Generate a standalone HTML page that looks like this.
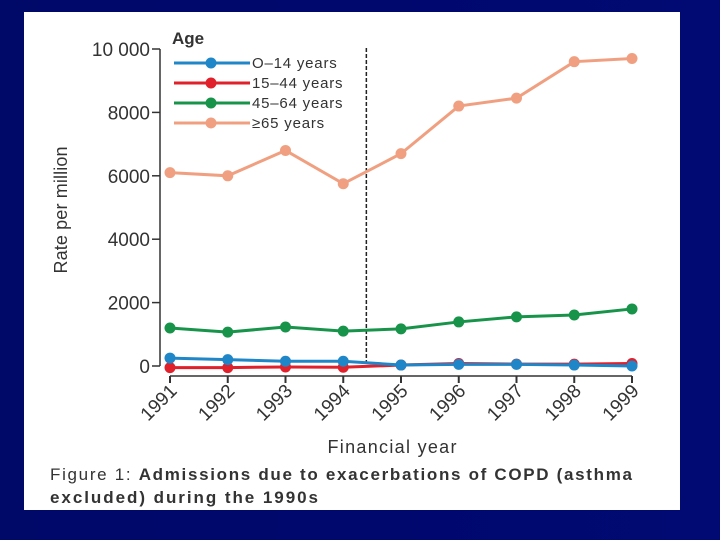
<!DOCTYPE html>
<html><head><meta charset="utf-8"><style>
html,body{margin:0;padding:0;width:720px;height:540px;overflow:hidden;background:#00066e;}
svg{display:block;}
</style></head><body>
<svg width="720" height="540">
<defs><linearGradient id="bg" x1="0" y1="0" x2="1" y2="0">
<stop offset="0" stop-color="#000868"/><stop offset="0.5" stop-color="#00086e"/><stop offset="1" stop-color="#000a72"/></linearGradient></defs>
<rect x="0" y="0" width="720" height="540" fill="url(#bg)"/>
<rect x="24" y="12" width="656" height="498" fill="#fff"/>
<g id="plot"></g>
<text x="67" y="210" transform="rotate(-90 67 210)" text-anchor="middle" font-family="Liberation Sans, sans-serif" font-size="18" textLength="127" fill="#333">Rate per million</text>
<text x="392" y="453" text-anchor="middle" font-family="Liberation Sans, sans-serif" font-size="18" textLength="129" fill="#333">Financial year</text>
<text x="50" y="480" font-family="Liberation Sans, sans-serif" font-size="17" fill="#333" textLength="582">Figure 1: <tspan font-weight="bold">Admissions due to exacerbations of COPD (asthma</tspan></text>
<text x="50" y="503" font-family="Liberation Sans, sans-serif" font-size="17" font-weight="bold" fill="#333" textLength="268">excluded) during the 1990s</text>
<text x="172" y="44" font-family="Liberation Sans, sans-serif" font-size="17" font-weight="bold" fill="#333">Age</text>
</svg>
<script>
const years = ['1991','1992','1993','1994','1995','1996','1997','1998','1999'];
const yTicks = [0,2000,4000,6000,8000,10000];
const yTickLabels = ['0','2000','4000','6000','8000','10 000'];
const seriesNames = ['O\u201314 years','15\u201344 years','45\u201364 years','\u226565 years'];
const seriesColors = ['#1f86c8','#e0202a','#17944a','#f0a080'];
const age0to14 = [250,200,150,150,30,50,50,30,0];
const age15to44 = [-50,-50,-30,-40,30,80,60,60,80];
const age45to64 = [1200,1070,1230,1100,1170,1390,1550,1610,1800];
const age65plus = [6100,6000,6800,5750,6700,8200,8450,9600,9700];
const seriesValues = [age0to14, age15to44, age45to64, age65plus];
const dividerYear = 3.4;

const NS='http://www.w3.org/2000/svg';
const g=document.getElementById('plot');
const x0=170,x1=632,yZero=366,yTop=49;
const xs=i=>x0+(x1-x0)*i/(years.length-1);
const ys=v=>yZero-(yZero-yTop)*v/10000;
function mk(tag,attrs){const e=document.createElementNS(NS,tag);for(const k in attrs)e.setAttribute(k,attrs[k]);g.appendChild(e);return e;}
const F='Liberation Sans, sans-serif';
let ax=mk('line',{x1:160,y1:ys(10000),x2:160,y2:yZero,stroke:'#333','stroke-width':1.5});


yTicks.forEach((t,i)=>{
  const tk=mk('line',{x1:152,x2:160,y1:ys(t),y2:ys(t),stroke:'#333','stroke-width':1.5});
  
  
  const tx=mk('text',{x:150,y:ys(t)+7,'text-anchor':'end','font-family':F,'font-size':19,fill:'#333'});
  tx.textContent=yTickLabels[i];
  
  
});
let xa=mk('line',{x1:xs(0),y1:376,x2:xs(years.length-1),y2:376,stroke:'#333','stroke-width':1.5});


years.forEach((y,i)=>{
  const tk=mk('line',{x1:xs(i),x2:xs(i),y1:376,y2:383,stroke:'#333','stroke-width':2});
  
  
  const tx=mk('text',{x:xs(i)+8,y:392,'text-anchor':'end','font-family':F,'font-size':19,fill:'#333',transform:`rotate(-45 ${xs(i)+8} 392)`});
  tx.textContent=y;
  
  
});
const dx=xs(dividerYear);
let dv=mk('line',{x1:dx,x2:dx,y1:48,y2:362,stroke:'#222','stroke-width':1.5,'stroke-dasharray':'4,2'});


[3,2,1,0].forEach(s=>{
  const vals=seriesValues[s];
  const pts=vals.map((v,i)=>xs(i)+','+ys(v)).join(' ');
  const pl=mk('polyline',{points:pts,fill:'none',stroke:seriesColors[s],'stroke-width':3});
  
  
  vals.forEach((v,i)=>{
    const c=mk('circle',{cx:xs(i),cy:ys(v),r:5.5,fill:seriesColors[s]});
    
    
  });
});
seriesNames.forEach((n,i)=>{
  const y=63+i*20;
  const l=mk('line',{x1:174,x2:250,y1:y,y2:y,stroke:seriesColors[i],'stroke-width':3});
  
  
  const c=mk('circle',{cx:211,cy:y,r:5.5,fill:seriesColors[i]});
  
  
  const t=mk('text',{x:252,y:y+5,'font-family':F,'font-size':15,fill:'#333','letter-spacing':'0.8'});
  t.textContent=n;
  
  
});
</script>
</body></html>
